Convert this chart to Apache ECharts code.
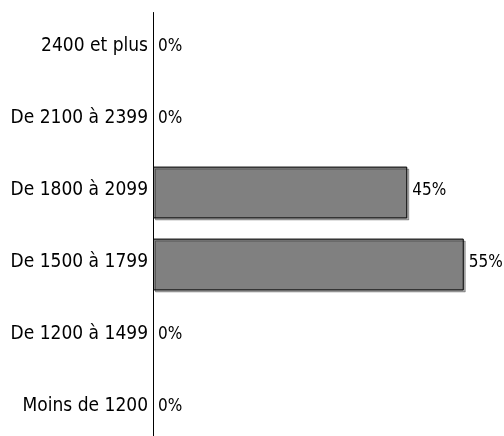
<!DOCTYPE html>
<html><head><meta charset="utf-8">
<script src="https://cdn.jsdelivr.net/npm/echarts@6/dist/echarts.min.js"></script>
<style>html,body{margin:0;padding:0;background:#fff;overflow:hidden}#c{width:504px;height:446px}</style>
</head><body><div id="c"></div>
<script>
var categories = ["Moins de 1200", "De 1200 à 1499", "De 1500 à 1799", "De 1800 à 2099", "De 2100 à 2399", "2400 et plus"];
var values = [0, 0, 55, 45, 0, 0];

var chart = echarts.init(document.getElementById('c'));
var barStyle = {color: '#808080', borderColor: '#000', borderWidth: 1,
  shadowColor: 'rgba(0,0,0,0.3)', shadowOffsetX: 2, shadowOffsetY: 2, shadowBlur: 0};
var zeroStyle = {color: 'rgba(0,0,0,0)', borderWidth: 0, shadowColor: 'rgba(0,0,0,0)'};
chart.setOption({
  animation: false,
  grid: {left: 153, right: 12, top: 12.5, height: 432, containLabel: false},
  xAxis: {type: 'value', min: 0, max: 60, show: false},
  yAxis: {
    type: 'category', data: categories,
    axisLine: {lineStyle: {color: '#000', width: 1}},
    axisTick: {show: false},
    axisLabel: {color: '#000', fontSize: 19, fontFamily: 'DejaVu Sans Condensed', margin: 5,
      verticalAlign: 'bottom', lineHeight: 4}
  },
  series: [{
    type: 'bar', barCategoryGap: '28%',
    data: values.map(function(v){ return {value: v, itemStyle: v === 0 ? zeroStyle : barStyle}; }),
    label: {show: true, position: 'right', distance: 5, offset: [0, -2], color: '#000', fontSize: 17,
      fontFamily: 'DejaVu Sans Condensed',
      formatter: function(p){return p.value + '%';}}
  }]
});
</script></body></html>
